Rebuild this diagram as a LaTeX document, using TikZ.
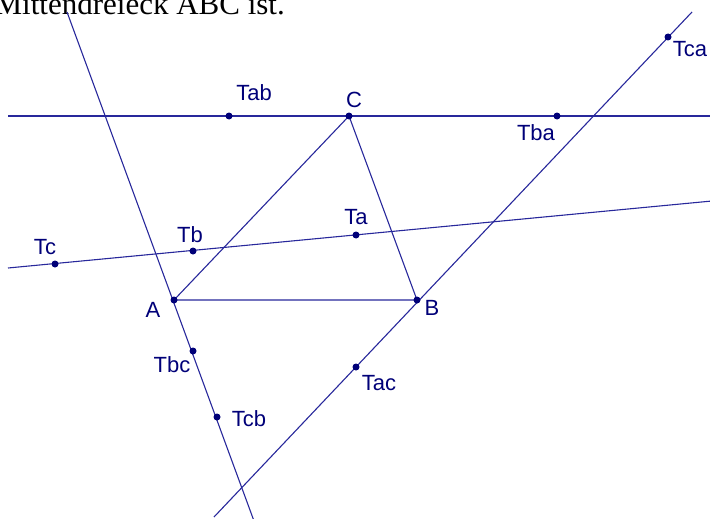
\documentclass[tikz,border=0pt]{standalone}
\usepackage{fontspec}
\setmainfont{Liberation Sans}
\newfontfamily\headserif{Liberation Serif}
\definecolor{lncol}{RGB}{40,40,155}
\definecolor{ptcol}{RGB}{0,0,120}
\tikzset{
  geoline/.style={draw=lncol, line width=1.1pt},
  dotpt/.style={circle, fill=ptcol, inner sep=0pt, minimum size=7pt},
  lbl/.style={text=ptcol, inner sep=0pt, font=\fontsize{22}{22}\selectfont}
}
\begin{document}
\begin{tikzpicture}[x=1pt,y=-1pt]
\useasboundingbox (0,0) rectangle (710,519);
\clip (0,0) rectangle (710,519);
\node[anchor=base east, inner sep=0pt, font=\headserif\fontsize{31}{31}\selectfont] (title) at (285,15) {Mittendreieck ABC ist.};
% points
\coordinate (A) at (174,300);
\coordinate (B) at (417,300);
\coordinate (C) at (349,116);
\coordinate (Tab) at (229,116);
\coordinate (Tba) at (557,116);
\coordinate (Ta) at (356,235);
\coordinate (Tb) at (193,251);
\coordinate (Tc) at (55,264);
\coordinate (Tbc) at (193,351);
\coordinate (Tcb) at (217,417);
\coordinate (Tac) at (356,367);
\coordinate (Tca) at (668,37);
% line ends
\coordinate (h1) at (8,116);
\coordinate (h2) at (712,116);
\coordinate (p1) at (67,12);
\coordinate (p2) at (254,521);
\coordinate (q1) at (692,12);
\coordinate (q2) at (214,517);
\coordinate (r1) at (8,268);
\coordinate (r2) at (712,201);
% lines
\draw[geoline] (h1) -- (h2);
\draw[geoline] (p1) -- (p2);
\draw[geoline] (q1) -- (q2);
\draw[geoline] (r1) -- (r2);
\draw[geoline] (A) -- (B) -- (C) -- cycle;
% dots
\foreach \p in {A,B,C,Tab,Tba,Ta,Tb,Tc,Tbc,Tcb,Tac,Tca}
  \node[dotpt] (d\p) at (\p) {};
% labels
\node[lbl] (lA) at (153,310) {A};
\node[lbl] (lB) at (432,308) {B};
\node[lbl] (lC) at (354,100) {C};
\node[lbl] (lTab) at (254,93) {Tab};
\node[lbl] (lTba) at (536,133) {Tba};
\node[lbl] (lTa) at (356,217) {Ta};
\node[lbl] (lTb) at (190,235) {Tb};
\node[lbl] (lTc) at (45,247) {Tc};
\node[lbl] (lTbc) at (172,365) {Tbc};
\node[lbl] (lTcb) at (249,419) {Tcb};
\node[lbl] (lTac) at (379,383) {Tac};
\node[lbl] (lTca) at (690,49) {Tca};
\end{tikzpicture}
\end{document}
